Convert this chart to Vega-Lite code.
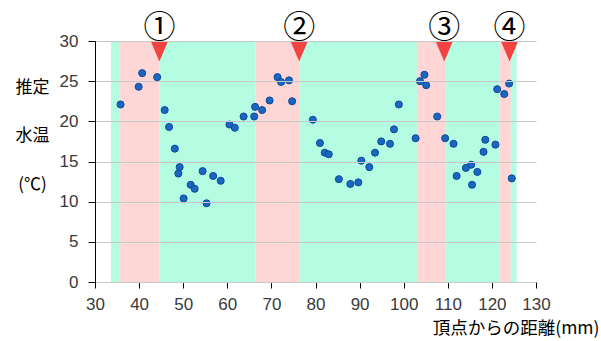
{
  "$schema": "https://vega.github.io/schema/vega-lite/v6.json",
  "width": 441,
  "height": 241,
  "autosize": "none",
  "padding": {"left": 95, "top": 41, "right": 65, "bottom": 59},
  "background": "white",
  "config": {
    "view": {"stroke": null},
    "font": "Noto Sans CJK JP"
  },
  "datasets": {
    "bands": [
      {"start": 33.6, "end": 35.7, "kind": "green"},
      {"start": 35.7, "end": 44.6, "kind": "pink"},
      {"start": 44.6, "end": 66.4, "kind": "green"},
      {"start": 66.4, "end": 76.3, "kind": "pink"},
      {"start": 76.3, "end": 103.0, "kind": "green"},
      {"start": 103.0, "end": 109.4, "kind": "pink"},
      {"start": 109.4, "end": 121.8, "kind": "green"},
      {"start": 121.8, "end": 124.3, "kind": "pink"},
      {"start": 124.3, "end": 125.6, "kind": "green"}
    ],
    "markers": [
      {"label": "①", "distance": 44.6},
      {"label": "②", "distance": 76.3},
      {"label": "③", "distance": 109.2},
      {"label": "④", "distance": 124.0}
    ],
    "temps": [
      {"distance": 35.8, "temp": 22.1},
      {"distance": 39.9, "temp": 24.3},
      {"distance": 40.7, "temp": 26.0},
      {"distance": 44.1, "temp": 25.5},
      {"distance": 45.8, "temp": 21.4},
      {"distance": 46.8, "temp": 19.3},
      {"distance": 48.1, "temp": 16.6},
      {"distance": 49.2, "temp": 14.3},
      {"distance": 48.9, "temp": 13.5},
      {"distance": 50.1, "temp": 10.4},
      {"distance": 51.7, "temp": 12.1},
      {"distance": 52.6, "temp": 11.6},
      {"distance": 54.4, "temp": 13.8},
      {"distance": 55.3, "temp": 9.8},
      {"distance": 56.8, "temp": 13.2},
      {"distance": 58.5, "temp": 12.6},
      {"distance": 60.5, "temp": 19.6},
      {"distance": 61.7, "temp": 19.2},
      {"distance": 63.7, "temp": 20.6},
      {"distance": 66.1, "temp": 20.6},
      {"distance": 66.3, "temp": 21.8},
      {"distance": 67.9, "temp": 21.4},
      {"distance": 69.6, "temp": 22.6},
      {"distance": 71.4, "temp": 25.5},
      {"distance": 72.2, "temp": 24.9},
      {"distance": 74.0, "temp": 25.1},
      {"distance": 74.7, "temp": 22.5},
      {"distance": 79.4, "temp": 20.2},
      {"distance": 81.0, "temp": 17.3},
      {"distance": 82.1, "temp": 16.1},
      {"distance": 83.0, "temp": 15.9},
      {"distance": 85.3, "temp": 12.8},
      {"distance": 87.9, "temp": 12.2},
      {"distance": 89.7, "temp": 12.4},
      {"distance": 90.4, "temp": 15.1},
      {"distance": 92.2, "temp": 14.3},
      {"distance": 93.5, "temp": 16.1},
      {"distance": 94.9, "temp": 17.5},
      {"distance": 96.9, "temp": 17.2},
      {"distance": 97.8, "temp": 19.0},
      {"distance": 98.9, "temp": 22.1},
      {"distance": 102.7, "temp": 17.9},
      {"distance": 103.7, "temp": 25.0},
      {"distance": 104.7, "temp": 25.8},
      {"distance": 105.1, "temp": 24.5},
      {"distance": 107.6, "temp": 20.6},
      {"distance": 109.4, "temp": 17.9},
      {"distance": 111.3, "temp": 17.2},
      {"distance": 112.0, "temp": 13.2},
      {"distance": 114.1, "temp": 14.2},
      {"distance": 115.3, "temp": 14.6},
      {"distance": 115.5, "temp": 12.1},
      {"distance": 116.7, "temp": 13.7},
      {"distance": 118.1, "temp": 16.2},
      {"distance": 118.5, "temp": 17.7},
      {"distance": 120.8, "temp": 17.1},
      {"distance": 121.2, "temp": 24.0},
      {"distance": 122.8, "temp": 23.4},
      {"distance": 123.9, "temp": 24.7},
      {"distance": 124.5, "temp": 12.9}
    ]
  },
  "layer": [
    {
      "data": {"name": "bands"},
      "mark": {"type": "rect"},
      "encoding": {
        "x": {
          "field": "start",
          "type": "quantitative",
          "scale": {"domain": [30, 130], "nice": false},
          "axis": {
            "title": "頂点からの距離(mm)",
            "values": [30, 40, 50, 60, 70, 80, 90, 100, 110, 120, 130],
            "grid": false,
            "labelFlush": false,
            "labelOverlap": false,
            "domainColor": "#000000",
            "tickColor": "#000000",
            "tickSize": 6,
            "labelPadding": 8,
            "labelFont": "Liberation Sans",
            "labelFontSize": 17,
            "labelColor": "#3a3a3a",
            "titleFont": "Noto Sans CJK JP",
            "titleFontSize": 17.5,
            "titleFontWeight": "normal",
            "titleColor": "#000000",
            "titleAnchor": "end",
            "titleAlign": "right",
            "titleBaseline": "middle",
            "titleX": 504,
            "titleY": 46
          }
        },
        "x2": {"field": "end"},
        "color": {
          "field": "kind",
          "type": "nominal",
          "scale": {"domain": ["green", "pink"], "range": ["#b4fde2", "#ffd6d6"]},
          "legend": null
        }
      }
    },
    {
      "data": {"name": "temps"},
      "mark": {
        "type": "point",
        "filled": true,
        "shape": "circle",
        "size": 50,
        "opacity": 1,
        "fill": "#1a66c2",
        "stroke": "#0d4a94",
        "strokeWidth": 1
      },
      "encoding": {
        "x": {"field": "distance", "type": "quantitative"},
        "y": {
          "field": "temp",
          "type": "quantitative",
          "scale": {"domain": [0, 30], "nice": false},
          "axis": {
            "values": [0, 5, 10, 15, 20, 25, 30],
            "grid": true,
            "gridColor": "#c8c8c8",
            "gridWidth": 1,
            "zindex": 1,
            "domainColor": "#000000",
            "tickColor": "#000000",
            "tickSize": 7,
            "labelPadding": 10,
            "labelFont": "Liberation Sans",
            "labelFontSize": 17,
            "labelColor": "#3a3a3a",
            "title": ["推定", "水温", "(℃)"],
            "titleFont": "Noto Sans CJK JP",
            "titleFontSize": 17,
            "titleFontWeight": "normal",
            "titleColor": "#000000",
            "titleAngle": 0,
            "titleAlign": "center",
            "titleBaseline": "middle",
            "titleLineHeight": 48.5,
            "titleX": -63,
            "titleY": 46
          }
        }
      }
    },
    {
      "data": {"name": "markers"},
      "mark": {
        "type": "point",
        "shape": "M-0.85,-1H0.85L0,1Z",
        "filled": true,
        "opacity": 1,
        "fill": "#f24343",
        "strokeWidth": 0,
        "size": 400,
        "yOffset": 10.5
      },
      "encoding": {
        "x": {"field": "distance", "type": "quantitative"},
        "y": {"datum": 30}
      }
    },
    {
      "data": {"name": "markers"},
      "mark": {
        "type": "text",
        "font": "Noto Sans CJK JP",
        "fontSize": 32,
        "color": "#000000",
        "baseline": "middle",
        "align": "center",
        "yOffset": -13
      },
      "encoding": {
        "x": {"field": "distance", "type": "quantitative"},
        "y": {"datum": 30},
        "text": {"field": "label"}
      }
    }
  ]
}
